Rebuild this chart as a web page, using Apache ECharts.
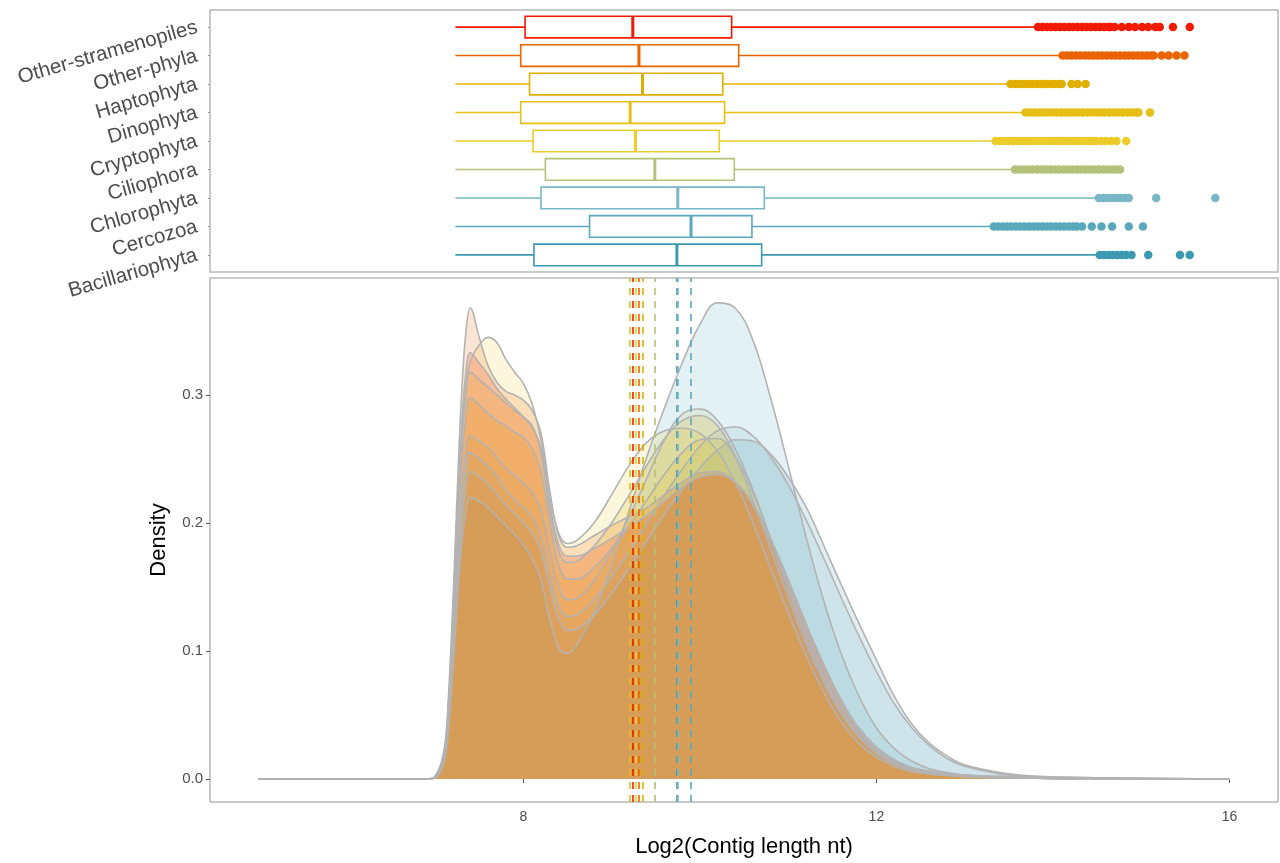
<!DOCTYPE html>
<html><head><meta charset="utf-8">
<script src="https://cdn.jsdelivr.net/npm/echarts@6/dist/echarts.min.js"></script>
<style>html,body{margin:0;padding:0;background:#fff}#c{width:1280px;height:863px}</style>
</head><body><div id="c"></div>
<script>
// ---- categories (bottom to top) ----
const categories = ['Bacillariophyta','Cercozoa','Chlorophyta','Ciliophora','Cryptophyta','Dinophyta','Haptophyta','Other-phyla','Other-stramenopiles'];
const colors = ['#3B9AB2','#59A8BB','#78B7C5','#B2C278','#EBCC2A','#E6BE15','#E1AF00','#EA6400','#F21A00'];

// ---- box plot statistics (log2 contig length) ----
const whiskerLow  = [7.23, 7.23, 7.23, 7.23, 7.23, 7.23, 7.23, 7.23, 7.23];
const quart1      = [8.12, 8.75, 8.20, 8.25, 8.11, 7.97, 8.07, 7.97, 8.02];
const medians     = [9.74, 9.90, 9.75, 9.49, 9.27, 9.21, 9.35, 9.31, 9.24];
const quart3      = [10.70, 10.59, 10.73, 10.39, 10.22, 10.28, 10.26, 10.44, 10.36];
const whiskerHigh = [14.50, 13.30, 14.50, 13.55, 13.33, 13.67, 13.50, 14.09, 13.81];

// ---- outliers ----
const outBacil  = [14.53,14.58,14.63,14.68,14.73,14.78,14.83,14.89,15.08,15.44,15.55];
const outCerco  = [13.33,13.38,13.43,13.48,13.53,13.58,13.63,13.68,13.73,13.78,13.83,13.88,13.93,13.98,14.03,14.08,14.13,14.18,14.23,14.27,14.33,14.44,14.55,14.67,14.86,15.02];
const outChloro = [14.52,14.57,14.62,14.67,14.72,14.77,14.82,14.86,15.17,15.84];
const outCilio  = [13.57,13.62,13.67,13.72,13.77,13.82,13.87,13.92,13.97,14.02,14.07,14.12,14.17,14.22,14.27,14.32,14.37,14.42,14.47,14.52,14.57,14.62,14.67,14.72,14.76];
const outCrypto = [13.35,13.40,13.45,13.50,13.55,13.60,13.65,13.70,13.75,13.80,13.85,13.90,13.95,14.00,14.05,14.10,14.15,14.20,14.25,14.30,14.35,14.40,14.45,14.49,14.55,14.60,14.66,14.72,14.83];
const outDino   = [13.69,13.74,13.79,13.84,13.89,13.94,13.99,14.04,14.09,14.14,14.19,14.24,14.29,14.34,14.39,14.44,14.49,14.54,14.59,14.64,14.69,14.74,14.79,14.84,14.89,14.94,14.97,15.10];
const outHapto  = [13.52,13.57,13.62,13.67,13.72,13.77,13.82,13.87,13.92,13.97,14.02,14.07,14.10,14.21,14.28,14.37];
const outPhyla  = [14.11,14.16,14.21,14.26,14.31,14.36,14.41,14.46,14.51,14.56,14.61,14.66,14.71,14.76,14.81,14.86,14.91,14.96,15.01,15.06,15.11,15.14,15.23,15.31,15.40,15.49];
const outStram  = [13.83,13.88,13.93,13.98,14.03,14.08,14.13,14.18,14.23,14.28,14.33,14.38,14.43,14.48,14.53,14.58,14.63,14.65,14.70,14.78,14.86,14.93,15.01,15.08,15.16,15.21,15.36,15.55];
const outliers = [outBacil,outCerco,outChloro,outCilio,outCrypto,outDino,outHapto,outPhyla,outStram];

// ---- density curves ----
const xGrid = [5.0,6.9,7.0,7.1,7.15,7.2,7.25,7.3,7.35,7.4,7.5,7.6,7.7,7.8,7.9,8.0,8.1,8.2,8.3,8.4,8.5,8.6,8.8,9.0,9.2,9.4,9.6,9.8,10.0,10.2,10.4,10.6,10.8,11.0,11.2,11.4,11.6,11.8,12.0,12.2,12.4,12.6,12.8,13.0,13.4,13.8,14.5,16.0];
const densBacil  = [0,0,0.001,0.014,0.041,0.091,0.149,0.199,0.228,0.240,0.236,0.230,0.222,0.214,0.207,0.200,0.192,0.178,0.150,0.125,0.116,0.117,0.128,0.145,0.165,0.186,0.207,0.226,0.243,0.257,0.265,0.264,0.254,0.236,0.213,0.183,0.152,0.122,0.093,0.065,0.043,0.028,0.018,0.011,0.005,0.002,0.001,0];
const densCerco  = [0,0,0.001,0.013,0.037,0.084,0.136,0.183,0.209,0.220,0.217,0.212,0.205,0.198,0.191,0.183,0.172,0.155,0.125,0.102,0.098,0.104,0.130,0.168,0.210,0.252,0.290,0.325,0.355,0.372,0.368,0.343,0.298,0.245,0.190,0.140,0.098,0.065,0.040,0.024,0.014,0.008,0.005,0.003,0.001,0.0005,0.0002,0];
const densChloro = [0,0,0.001,0.015,0.043,0.097,0.158,0.212,0.242,0.255,0.250,0.244,0.236,0.226,0.218,0.212,0.205,0.190,0.160,0.135,0.127,0.128,0.140,0.158,0.178,0.200,0.222,0.242,0.260,0.272,0.275,0.268,0.252,0.230,0.203,0.173,0.142,0.112,0.084,0.059,0.040,0.026,0.016,0.010,0.004,0.002,0.001,0];
const densCilio  = [0,0,0.001,0.016,0.046,0.102,0.166,0.222,0.255,0.268,0.264,0.259,0.251,0.243,0.237,0.231,0.224,0.210,0.178,0.150,0.140,0.141,0.155,0.178,0.205,0.235,0.265,0.285,0.289,0.280,0.258,0.226,0.188,0.148,0.110,0.078,0.052,0.033,0.020,0.012,0.007,0.004,0.003,0.002,0.001,0.0005,0.0002,0];
const densCrypto = [0,0,0.002,0.019,0.055,0.122,0.200,0.265,0.305,0.326,0.339,0.345,0.341,0.328,0.318,0.309,0.293,0.265,0.222,0.192,0.184,0.186,0.200,0.222,0.245,0.263,0.272,0.274,0.270,0.256,0.232,0.200,0.165,0.130,0.097,0.068,0.045,0.028,0.017,0.010,0.006,0.004,0.003,0.002,0.001,0.0005,0.0002,0];
const densDino   = [0,0,0.001,0.018,0.051,0.113,0.185,0.247,0.283,0.298,0.292,0.286,0.280,0.276,0.271,0.267,0.258,0.240,0.200,0.167,0.156,0.156,0.165,0.180,0.198,0.218,0.238,0.255,0.265,0.266,0.252,0.224,0.188,0.150,0.113,0.081,0.055,0.035,0.022,0.013,0.008,0.005,0.003,0.002,0.001,0.0005,0.0002,0];
const densHapto  = [0,0,0.002,0.019,0.054,0.121,0.197,0.264,0.302,0.318,0.312,0.306,0.300,0.294,0.288,0.283,0.276,0.255,0.210,0.178,0.169,0.170,0.182,0.200,0.222,0.245,0.266,0.280,0.284,0.276,0.252,0.218,0.180,0.142,0.106,0.076,0.051,0.033,0.020,0.012,0.007,0.004,0.003,0.002,0.001,0.0005,0.0002,0];
const densPhyla  = [0,0,0.002,0.022,0.063,0.135,0.222,0.300,0.350,0.368,0.345,0.323,0.310,0.303,0.300,0.296,0.288,0.270,0.225,0.190,0.181,0.182,0.190,0.198,0.205,0.212,0.222,0.232,0.239,0.240,0.232,0.214,0.186,0.155,0.120,0.088,0.060,0.038,0.023,0.014,0.009,0.006,0.004,0.003,0.002,0.001,0.0005,0];
const densStram  = [0,0,0.002,0.020,0.057,0.127,0.206,0.276,0.318,0.333,0.325,0.316,0.305,0.297,0.290,0.283,0.275,0.258,0.215,0.183,0.174,0.174,0.180,0.188,0.197,0.206,0.217,0.228,0.236,0.238,0.232,0.215,0.188,0.156,0.122,0.090,0.062,0.040,0.025,0.015,0.009,0.006,0.004,0.003,0.002,0.001,0.0005,0];
const densities = [densBacil,densCerco,densChloro,densCilio,densCrypto,densDino,densHapto,densPhyla,densStram];

// ---- axes ----
const xTicks = [8, 12, 16];
const yTicks = [0, 0.1, 0.2, 0.3];
const xTitle = 'Log2(Contig length nt)';
const yTitle = 'Density';

const FONT = "'Liberation Sans', Arial, sans-serif";
const catIdx = categories.map((_, i) => i);

const boxData = categories.map((c, i) => [i, whiskerLow[i], quart1[i], medians[i], quart3[i], whiskerHigh[i]]);
const outData = [];
outliers.forEach((arr, i) => arr.forEach(v => outData.push({value: [v, i], itemStyle: {color: colors[i]}})));

const series = [];
series.push({
  type: 'custom', xAxisIndex: 0, yAxisIndex: 0, data: boxData, z: 3,
  encode: {x: [1,2,3,4,5], y: 0},
  renderItem: function (params, api) {
    const i = api.value(0);
    const lo = api.coord([api.value(1), i]);
    const a = api.coord([api.value(2), i]);
    const m = api.coord([api.value(3), i]);
    const b = api.coord([api.value(4), i]);
    const hi = api.coord([api.value(5), i]);
    const h = api.size([0, 0.76])[1];
    const col = colors[i];
    return {type: 'group', children: [
      {type: 'line', shape: {x1: lo[0], y1: lo[1], x2: a[0], y2: a[1]}, style: {stroke: col, lineWidth: 1.6}},
      {type: 'line', shape: {x1: b[0], y1: b[1], x2: hi[0], y2: hi[1]}, style: {stroke: col, lineWidth: 1.6}},
      {type: 'rect', shape: {x: a[0], y: a[1] - h / 2, width: b[0] - a[0], height: h}, style: {fill: '#fff', stroke: col, lineWidth: 1.6}},
      {type: 'line', shape: {x1: m[0], y1: m[1] - h / 2, x2: m[0], y2: m[1] + h / 2}, style: {stroke: col, lineWidth: 3}}
    ]};
  }
});
series.push({
  type: 'scatter', xAxisIndex: 0, yAxisIndex: 0, data: outData, symbolSize: 8.5, z: 4,
  itemStyle: {opacity: 1}
});
densities.forEach((d, i) => {
  series.push({
    type: 'line', name: categories[i], xAxisIndex: 1, yAxisIndex: 1,
    data: xGrid.map((x, k) => [x, d[k]]),
    smooth: 0.4, showSymbol: false, symbol: 'none', z: 2,
    lineStyle: {color: '#b3b3b3', width: 1.6},
    areaStyle: {color: colors[i], opacity: 0.165, origin: 0}
  });
});
series.push({
  type: 'line', xAxisIndex: 1, yAxisIndex: 1, data: [], z: 6, silent: true,
  markLine: {
    silent: true, symbol: ['none', 'none'], animation: false,
    label: {show: false},
    data: medians.map((v, i) => ({xAxis: v, lineStyle: {color: colors[i], width: 1.6, type: [7, 6]}}))
  }
});

const chart = echarts.init(document.getElementById('c'), null, {renderer: 'canvas'});
chart.setOption({
  animation: false,
  backgroundColor: '#fff',
  textStyle: {fontFamily: FONT},
  grid: [
    {left: 210, right: 2, top: 10, height: 262, show: true, borderColor: '#b8b8b8', borderWidth: 1.5, backgroundColor: '#fff'},
    {left: 210, right: 2, top: 278, height: 524, show: true, borderColor: '#b8b8b8', borderWidth: 1.5, backgroundColor: '#fff'}
  ],
  xAxis: [
    {type: 'value', gridIndex: 0, min: 4.45, max: 16.55, axisLine: {show: false}, axisTick: {show: false}, axisLabel: {show: false}, splitLine: {show: false}},
    {type: 'value', gridIndex: 1, min: 4.45, max: 16.55, axisLine: {show: false},
     axisTick: {show: true, customValues: xTicks, length: 4, lineStyle: {color: '#555', width: 1}},
     axisLabel: {customValues: xTicks, color: '#4d4d4d', fontSize: 14, margin: 8, fontFamily: FONT},
     splitLine: {show: false},
     name: xTitle, nameLocation: 'middle', nameGap: 34,
     nameTextStyle: {fontSize: 22, color: '#000', fontFamily: FONT}}
  ],
  yAxis: [
    {type: 'value', gridIndex: 0, min: -0.6, max: 8.6, axisLine: {show: false},
     axisTick: {show: true, customValues: catIdx, length: 2, lineStyle: {color: '#999'}},
     axisLabel: {customValues: catIdx, formatter: v => categories[Math.round(v)], rotate: 16, fontSize: 20.5, color: '#4d4d4d', margin: 13, fontFamily: FONT},
     splitLine: {show: false}},
    {type: 'value', gridIndex: 1, min: -0.018, max: 0.3914, axisLine: {show: false},
     axisTick: {show: true, customValues: yTicks, length: 4, lineStyle: {color: '#555'}},
     axisLabel: {customValues: yTicks, formatter: v => v.toFixed(1), color: '#4d4d4d', fontSize: 15, margin: 7, fontFamily: FONT},
     splitLine: {show: false},
     name: yTitle, nameLocation: 'middle', nameGap: 40,
     nameTextStyle: {fontSize: 22, color: '#000', fontFamily: FONT}}
  ],
  series: series
});
</script>
</body></html>
